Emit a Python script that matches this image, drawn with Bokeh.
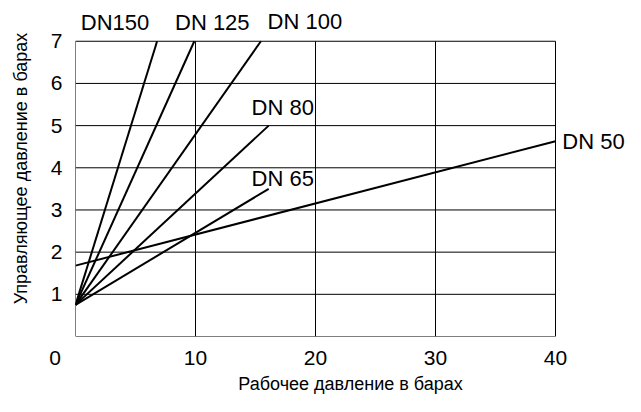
from bokeh.plotting import figure
from bokeh.models import FixedTicker, ColumnDataSource, LabelSet, Range1d
from bokeh.core.properties import value
from bokeh.embed import file_html
from bokeh.resources import INLINE

# ---- data ----
series_names = ["DN150", "DN 125", "DN 100", "DN 80", "DN 65", "DN 50"]
start_x = [0, 0, 0, 0, 0, 0]
start_y = [0.75, 0.75, 0.75, 0.75, 0.75, 1.68]
end_x = [6.8, 9.9, 15.45, 16.1, 16.1, 40]
end_y = [7, 7, 7, 5, 3.5, 4.63]
x_ticks = [0, 10, 20, 30, 40]
y_ticks = [1, 2, 3, 4, 5, 6, 7]
y_min = 0
x_title = "Рабочее давление в барах"
y_title = "Управляющее давление в барах"

# ---- label placement (screen pixel offsets from each line end) ----
label_dx = [-42, 18, 44, 14, 14, 38]
label_dy = [18.5, 18.5, 20, 18, 10.5, 0]

FONT = "Liberation Sans"
NBSP = "\u00a0"

W, H = 625, 396
LEFT, BOTTOM, TOP, RIGHT = 75, 58, 0, 0
BOX_W, BOX_H = 480, 297
frame_w = W - LEFT - RIGHT
frame_h = H - TOP - BOTTOM
x_lo, x_hi = x_ticks[0], x_ticks[-1]
y_lo, y_hi = y_min, y_ticks[-1]

p = figure(width=W, height=H,
           min_border_left=LEFT, min_border_top=TOP, min_border_right=RIGHT, min_border_bottom=BOTTOM,
           x_range=Range1d(x_lo, x_lo + (x_hi - x_lo) * frame_w / BOX_W),
           y_range=Range1d(y_lo, y_lo + (y_hi - y_lo) * frame_h / BOX_H),
           output_backend="svg", toolbar_location=None,
           background_fill_color="white", border_fill_color="white")

p.outline_line_color = None
p.grid.visible = False

for ax in (p.xaxis, p.yaxis):
    ax.axis_line_color = None
    ax.major_tick_line_color = None
    ax.minor_tick_line_color = None
    ax.major_tick_out = 0
    ax.major_tick_in = 0
    ax.minor_tick_out = 0
    ax.minor_tick_in = 0
    ax.major_label_text_font = FONT
    ax.major_label_text_font_size = "21px"
    ax.major_label_text_color = "black"
    ax.axis_label_text_font = FONT
    ax.axis_label_text_font_size = "18px"
    ax.axis_label_text_font_style = "normal"
    ax.axis_label_text_color = "black"

p.xaxis.ticker = FixedTicker(ticks=x_ticks)
p.xaxis.major_label_overrides = {x_ticks[0]: str(x_ticks[0]) + NBSP * 7}
p.yaxis.ticker = FixedTicker(ticks=y_ticks)
p.xaxis.major_label_standoff = 9
p.yaxis.major_label_standoff = 13
p.xaxis.axis_label = x_title
p.yaxis.axis_label = y_title
p.xaxis.axis_label_standoff = 2
p.yaxis.axis_label_standoff = 17

# grid / box drawn only over the data area
grid_x = ColumnDataSource(dict(x=x_ticks, y0=[y_lo] * len(x_ticks), y1=[y_hi] * len(x_ticks)))
grid_y_vals = [y_lo] + y_ticks
grid_y = ColumnDataSource(dict(y=grid_y_vals, x0=[x_lo] * len(grid_y_vals), x1=[x_hi] * len(grid_y_vals)))
p.segment(x0="x", y0="y0", x1="x", y1="y1", source=grid_x, line_color="black", line_width=1)
p.segment(x0="x0", y0="y", x1="x1", y1="y", source=grid_y, line_color="black", line_width=1)

src = ColumnDataSource(dict(x0=start_x, y0=start_y, x1=end_x, y1=end_y,
                            name=series_names, dx=label_dx, dy=label_dy))
p.segment(x0="x0", y0="y0", x1="x1", y1="y1", source=src,
          line_color="black", line_width=2)

labels = LabelSet(x="x1", y="y1", text="name", source=src,
                  x_offset="dx", y_offset="dy",
                  text_font=value(FONT), text_font_size="22px", text_color="black",
                  text_align="center", text_baseline="middle")
p.add_layout(labels)

open("out.html", "w").write(file_html(p, INLINE))
